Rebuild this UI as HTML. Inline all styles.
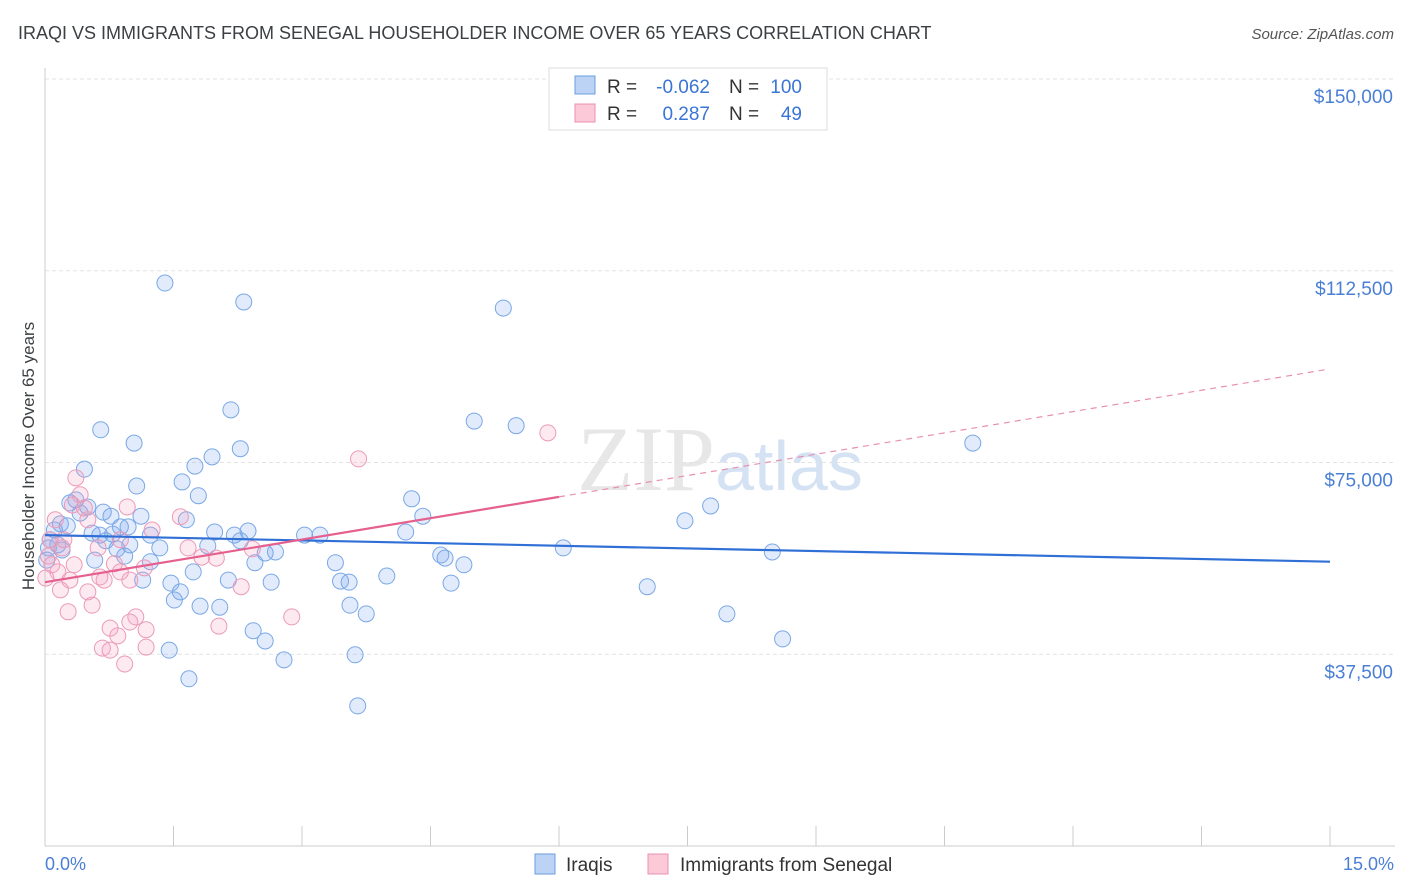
<!DOCTYPE html>
<html><head><meta charset="utf-8"><style>
body{margin:0;background:#fff;font-family:"Liberation Sans",sans-serif}
svg{display:block}
</style></head><body>
<svg id="chart" width="1406" height="892" viewBox="0 0 1406 892" font-family="Liberation Sans, sans-serif">
<text x="18" y="39" font-size="18" fill="#3c4043">IRAQI VS IMMIGRANTS FROM SENEGAL HOUSEHOLDER INCOME OVER 65 YEARS CORRELATION CHART</text>
<text x="1394" y="39" font-size="15" font-style="italic" fill="#555" text-anchor="end">Source: ZipAtlas.com</text>
<text x="720" y="490" font-size="92" text-anchor="middle" fill="#d8d8d8" opacity="0.6" font-family="Liberation Serif, serif">ZIP<tspan fill="#b9cfec" font-family="Liberation Sans, sans-serif" font-size="70">atlas</tspan></text>
<g id="grid"></g>
<g id="axes"></g>
<g id="blue"></g>
<g id="pink"></g>
<g id="trends"></g>
<text transform="translate(34,456) rotate(-90)" font-size="17" fill="#3c4043" text-anchor="middle">Householder Income Over 65 years</text>
<text x="45" y="870" font-size="18" fill="#4a7fd6">0.0%</text>
<text x="1394" y="870" font-size="18" fill="#4a7fd6" text-anchor="end">15.0%</text>
<g>
<rect x="549" y="68" width="278" height="62" fill="#fff" stroke="#ddd"/>
<rect x="575" y="76" width="20" height="18" fill="#bcd3f5" stroke="#6a9ee0"/>
<rect x="575" y="104" width="20" height="18" fill="#fbc9d8" stroke="#e890b0"/>
<text x="607" y="93" font-size="19" fill="#333">R =</text>
<text x="710" y="93" font-size="19" fill="#3a75d6" text-anchor="end">-0.062</text>
<text x="729" y="93" font-size="19" fill="#333">N =</text>
<text x="802" y="93" font-size="19" fill="#3a75d6" text-anchor="end">100</text>
<text x="607" y="120" font-size="19" fill="#333">R =</text>
<text x="710" y="120" font-size="19" fill="#3a75d6" text-anchor="end">0.287</text>
<text x="729" y="120" font-size="19" fill="#333">N =</text>
<text x="802" y="120" font-size="19" fill="#3a75d6" text-anchor="end">49</text>
</g>
<g>
<rect x="535" y="854" width="20" height="20" fill="#bcd3f5" stroke="#6a9ee0"/>
<text x="566" y="871" font-size="19" fill="#333">Iraqis</text>
<rect x="648" y="854" width="20" height="20" fill="#fbc9d8" stroke="#e890b0"/>
<text x="680" y="871" font-size="19" fill="#333">Immigrants from Senegal</text>
</g>
</svg>
<script>
const yTicks=[37500,75000,112500,150000];
const yTickLabels=["$37,500","$75,000","$112,500","$150,000"];
const xTicks=[0,1.5,3,4.5,6,7.5,9,10.5,12,13.5,15];
const blueX=[1.40,2.32,5.35,2.17,5.01,5.50,10.83,0.65,1.04,2.28,1.95,0.46,1.75,1.07,1.60,1.79,4.28,7.77,7.47,4.41,0.29,0.36,0.50,0.68,0.77,1.12,1.65,1.98,2.37,2.21,3.03,3.21,4.21,0.88,0.97,1.23,1.34,0.18,0.11,0.06,0.15,0.55,0.71,0.93,0.84,6.05,8.49,4.62,4.67,4.89,3.39,2.57,2.69,2.45,1.73,1.47,2.14,2.64,3.45,3.55,3.99,4.74,7.03,1.58,1.51,1.81,2.04,3.56,3.75,7.96,2.43,2.57,8.61,1.45,2.79,3.62,1.68,3.65,1.14,1.90,0.26,0.41,0.79,0.20,1.23,2.28,0.58,0.64,0.99,0.02,0.04];
const blueY=[110.1,106.4,105.2,85.3,83.1,82.2,78.8,81.4,78.8,77.7,76.1,73.7,74.3,70.4,71.2,68.5,67.9,66.5,63.6,64.5,67.1,67.7,66.3,65.3,64.5,64.5,63.8,61.4,61.6,60.8,60.8,60.8,61.4,62.4,62.4,60.8,58.3,63.0,61.8,59.9,58.9,61.2,59.7,56.7,58.1,58.3,57.5,56.9,56.3,55.0,55.4,57.3,57.5,55.4,53.6,51.4,52.0,51.6,51.8,51.6,52.8,51.4,50.7,49.7,48.1,46.9,46.7,47.1,45.4,45.4,42.1,40.1,40.5,38.3,36.4,37.4,32.7,27.4,52.0,58.7,62.6,65.1,61.0,57.9,55.6,59.7,55.9,60.8,58.9,55.9,58.3];
const pinkX=[5.87,3.66,0.36,0.41,0.32,0.96,1.58,1.25,0.12,0.06,0.20,0.04,0.08,0.15,0.01,0.29,0.34,0.69,0.88,0.99,0.50,0.64,0.55,0.27,1.06,0.76,0.85,0.99,1.18,0.67,0.76,0.93,1.18,1.67,1.83,2.00,2.42,2.29,2.03,2.88,1.16,0.62,0.50,0.22,0.46,0.18,0.81,0.88];
const pinkY=[80.8,75.7,72.0,68.7,66.7,66.3,64.4,61.8,63.8,59.9,58.3,56.7,55.0,53.6,52.4,52.0,55.0,52.0,53.6,52.0,49.7,52.6,47.1,45.8,44.8,42.6,41.1,43.8,42.3,38.7,38.3,35.6,38.9,58.3,56.5,56.3,58.1,50.7,43.0,44.8,54.4,58.3,63.8,59.9,66.1,50.1,55.2,59.9];
const blueTrend=[60.8,55.6];      // y (thousands) at x=0 and x=15
const pinkTrend=[51.6,2.78];      // intercept, slope per %
const pinkSolidEnd=6.0;

const NS="http://www.w3.org/2000/svg";
const X=v=>45+v/15*1285;
const Y=v=>846-v/150000*767;
const Yk=v=>Y(v*1000);
function mk(tag,attrs,parent){const e=document.createElementNS(NS,tag);for(const k in attrs)e.setAttribute(k,attrs[k]);parent.appendChild(e);return e;}
const grid=document.getElementById('grid'),axes=document.getElementById('axes');
yTicks.forEach((t,i)=>{
  const l=mk('line',{x1:45,x2:1395,y1:Y(t),y2:Y(t),stroke:'#e3e3e3','stroke-dasharray':'4,3'},grid);
  
  
  const tx=mk('text',{x:1393,y:Y(t)+24,'font-size':19,fill:'#4a7fd6','text-anchor':'end'},axes);
  tx.textContent=yTickLabels[i];
  
  
});
mk('line',{x1:45,x2:45,y1:68,y2:846,stroke:'#ccc'},axes);
mk('line',{x1:45,x2:1395,y1:846,y2:846,stroke:'#ccc'},axes);
xTicks.forEach(t=>{
  const l=mk('line',{x1:X(t),x2:X(t),y1:826,y2:846,stroke:'#ccc'},axes);
  
  
});
const bg=document.getElementById('blue');
blueX.forEach((v,i)=>{
  const c=mk('circle',{cx:X(v),cy:Yk(blueY[i]),r:8,fill:'rgba(120,165,235,0.22)',stroke:'#7aa8e6','stroke-width':1},bg);
  
  
});
const pg=document.getElementById('pink');
pinkX.forEach((v,i)=>{
  const c=mk('circle',{cx:X(v),cy:Yk(pinkY[i]),r:8,fill:'rgba(245,160,190,0.22)',stroke:'#ec9ab8','stroke-width':1},pg);
  
  
});
const tg=document.getElementById('trends');
const bl=mk('line',{x1:X(0),y1:Yk(blueTrend[0]),x2:X(15),y2:Yk(blueTrend[1]),stroke:'#2f6fd6','stroke-width':2.2},tg);


const pf=x=>pinkTrend[0]+pinkTrend[1]*x;
const ps=mk('line',{x1:X(0),y1:Yk(pf(0)),x2:X(pinkSolidEnd),y2:Yk(pf(pinkSolidEnd)),stroke:'#e5608e','stroke-width':2.2},tg);


const pd=mk('line',{x1:X(pinkSolidEnd),y1:Yk(pf(pinkSolidEnd)),x2:X(14.97),y2:Yk(pf(14.97)),stroke:'#e890b0','stroke-width':1.2,'stroke-dasharray':'6,5'},tg);


</script>
</body></html>
